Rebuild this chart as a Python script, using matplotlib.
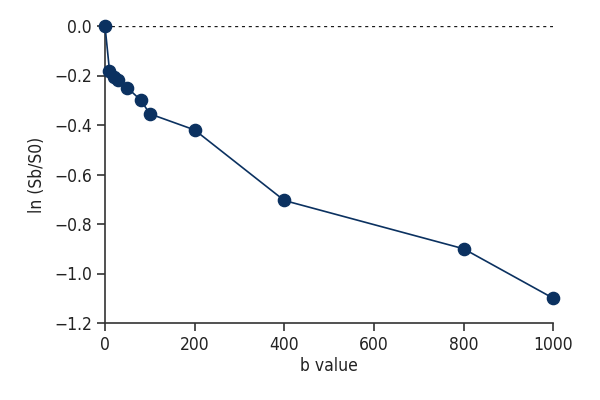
import matplotlib
matplotlib.use("Agg")
import matplotlib.pyplot as plt

b_values = [0, 10, 20, 30, 50, 80, 100, 200, 400, 800, 1000]
ln_ratio = [0.0, -0.18, -0.205, -0.22, -0.25, -0.30, -0.355, -0.42, -0.705, -0.90, -1.10]
x_ticks = [0, 200, 400, 600, 800, 1000]
y_ticks = [0.0, -0.2, -0.4, -0.6, -0.8, -1.0, -1.2]

plt.rcParams['font.family'] = ['DejaVu Sans']
plt.rcParams['font.stretch'] = 'condensed'

fig = plt.figure(figsize=(6, 4), dpi=100)
ax = fig.add_axes([0.175, 0.1925, 0.747, 0.7425])
navy = '#0b3160'
ax.plot([0, 1000], [0, 0], linestyle=(0, (1.3, 1.6)), color='#1a1a1a', lw=1.7, zorder=1)
ax.plot(b_values, ln_ratio, '-o', color=navy, lw=1.2, markersize=8.8, clip_on=False, zorder=3)
ax.set_xlim(0, 1000)
ax.set_ylim(-1.2, 0)
ax.set_xticks(x_ticks)
ax.set_yticks(y_ticks)
ax.set_yticklabels([f"{v:.1f}".replace('-', '\u2212') for v in y_ticks])
for s in ['top', 'right']:
    ax.spines[s].set_visible(False)
for s in ['left', 'bottom']:
    ax.spines[s].set_color('#333333')
    ax.spines[s].set_linewidth(1.2)
ax.tick_params(direction='out', length=6, width=1.2, color='#333333', labelsize=12.5, labelcolor='#222222')
ax.set_xlabel('b value', fontsize=12.5, color='#222222', labelpad=2)
ax.set_ylabel('ln (Sb/S0)', fontsize=12.5, color='#222222', labelpad=6)
fig.savefig('out.png', dpi=100)
